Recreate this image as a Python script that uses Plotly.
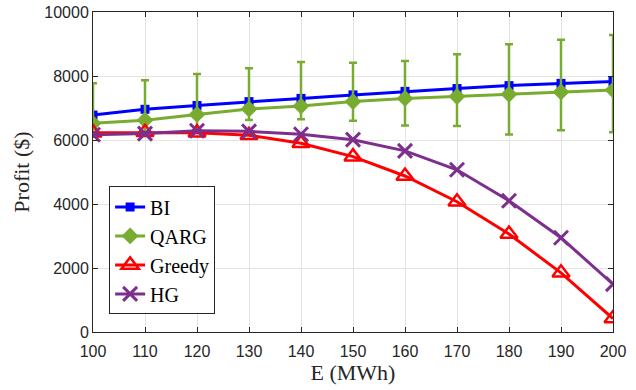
import plotly.graph_objects as go

E = [100, 110, 120, 130, 140, 150, 160, 170, 180, 190, 200]
bi = [6780, 6960, 7080, 7200, 7300, 7410, 7520, 7610, 7700, 7770, 7830]
qarg = [6520, 6620, 6800, 6970, 7060, 7200, 7300, 7360, 7430, 7500, 7560]
qarg_hi = [7770, 7865, 8060, 8240, 8440, 8415, 8470, 8680, 8990, 9135, 9280]
qarg_lo = [6100, 6150, 6250, 6625, 6645, 6600, 6455, 6435, 6170, 6305, 6240]
greedy = [6230, 6240, 6230, 6150, 5900, 5480, 4875, 4070, 3060, 1850, 420]
hg = [6165, 6200, 6290, 6270, 6180, 6010, 5660, 5070, 4100, 2945, 1495]
yticks = [0, 2000, 4000, 6000, 8000, 10000]

err_plus = [h - m for h, m in zip(qarg_hi, qarg)]
err_minus = [m - l for m, l in zip(qarg, qarg_lo)]

SERIF = "Liberation Serif, Times New Roman, DejaVu Serif, serif"

fig = go.Figure()
fig.add_trace(go.Scatter(x=E, y=bi, name="BI", mode="lines+markers",
                         line=dict(color="#0000ff", width=3),
                         marker=dict(symbol="square", size=9, color="#0000ff")))
fig.add_trace(go.Scatter(x=E, y=qarg, name="QARG", mode="lines+markers",
                         line=dict(color="#77ac30", width=3),
                         marker=dict(symbol="diamond", size=13, color="#77ac30"),
                         error_y=dict(type="data", symmetric=False, array=err_plus,
                                      arrayminus=err_minus, color="#77ac30",
                                      thickness=2.5, width=4)))
fig.add_trace(go.Scatter(x=E, y=greedy, name="Greedy", mode="lines+markers",
                         line=dict(color="#ff0000", width=3),
                         marker=dict(symbol="triangle-up-open", size=15, color="#ff0000",
                                     line=dict(width=2.5, color="#ff0000"))))
fig.add_trace(go.Scatter(x=E, y=hg, name="HG", mode="lines+markers",
                         line=dict(color="#7e2f8e", width=3),
                         marker=dict(symbol="x-thin-open", size=14, color="#7e2f8e",
                                     line=dict(width=3, color="#7e2f8e"))))

axis_common = dict(showline=True, linecolor="#262626", linewidth=1, mirror="ticks",
                   ticks="inside", ticklen=5, tickcolor="#262626", automargin=False,
                   showgrid=True, gridcolor="#e3e3e3", gridwidth=1, zeroline=False,
                   tickfont=dict(family="Liberation Sans, Arial, sans-serif", size=16,
                                 color="#262626"))

fig.update_layout(
    width=636, height=390,
    margin=dict(l=93, r=23, t=12, b=58),
    paper_bgcolor="white", plot_bgcolor="white",
    xaxis=dict(range=[100, 200], tickvals=E, ticklabelstandoff=5,
               title=dict(text="E (MWh)", standoff=5,
                          font=dict(family=SERIF, size=22, color="#262626")),
               **axis_common),
    yaxis=dict(range=[0, 10000], tickvals=yticks, tickformat="d",
               title=dict(text="Profit ($)", standoff=8,
                          font=dict(family=SERIF, size=22, color="#262626")),
               **axis_common),
    legend=dict(x=0.031, y=0.455, xanchor="left", yanchor="top",
                bgcolor="white", bordercolor="#262626", borderwidth=1,
                font=dict(family=SERIF, size=20, color="black"),
                tracegroupgap=0, itemsizing="trace"),
    showlegend=True,
)

fig.write_html("out.html", config={"displayModeBar": False},
               post_script="document.body.style.margin='0';")
